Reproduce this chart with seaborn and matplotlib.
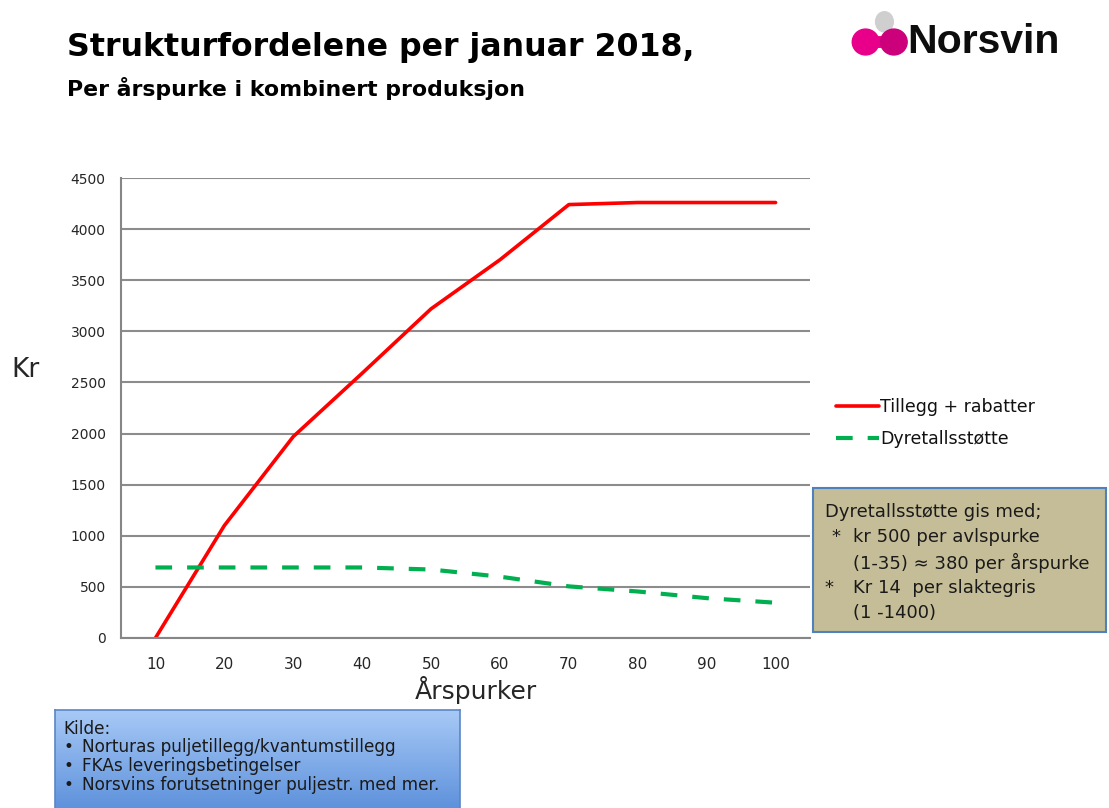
import numpy as np
import pandas as pd
import seaborn as sns
import matplotlib.pyplot as plt
from matplotlib.patches import Ellipse, Rectangle
from matplotlib.lines import Line2D

# Values
arspurker = [10, 20, 30, 40, 50, 60, 70, 80, 90, 100]
tillegg_rabatter = [0, 1100, 1970, 2590, 3220, 3700, 4240, 4260, 4260, 4260]
dyretallsstotte = [690, 690, 690, 690, 670, 600, 505, 455, 390, 345]
y_ticks = [0, 500, 1000, 1500, 2000, 2500, 3000, 3500, 4000, 4500]

df = pd.DataFrame({'Årspurker': arspurker,
                   'Tillegg + rabatter': tillegg_rabatter,
                   'Dyretallsstøtte': dyretallsstotte})

sns.set_style('white')
plt.rcParams['font.family'] = ['DejaVu Sans']
plt.rcParams['text.color'] = '#111111'

RED = '#ff0000'
GREEN = '#00b050'
GREEN_DASH = [4, 3.6]

fig = plt.figure(figsize=(11.09, 8.08), dpi=100)
ax = fig.add_axes([0.1091, 0.2104, 0.6213, 0.5693])

sns.lineplot(data=df, x='Årspurker', y='Tillegg + rabatter', ax=ax,
             color=RED, linewidth=2.6)
sns.lineplot(data=df, x='Årspurker', y='Dyretallsstøtte', ax=ax,
             color=GREEN, linewidth=3)
ax.lines[1].set_dashes(GREEN_DASH)

ax.set_xlim(5, 105)
ax.set_ylim(0, 4500)
ax.set_xticks(arspurker)
ax.set_xticks(np.arange(5, 106, 10), minor=True)
ax.set_yticks(y_ticks)
ax.set_xticklabels([str(v) for v in arspurker], fontsize=11)
ax.set_yticklabels([str(v) for v in y_ticks], fontsize=10)
ax.tick_params(axis='x', which='major', length=0, pad=14)
ax.tick_params(axis='x', which='minor', length=6, width=1.2, color='#868686', direction='out')
ax.tick_params(axis='y', length=5, width=1.2, color='#868686', direction='out', pad=6)
ax.grid(axis='y', color='#8c8c8c', linewidth=1.5)
ax.set_axisbelow(True)
for s in ['top', 'right']:
    ax.spines[s].set_visible(False)
for s in ['left', 'bottom']:
    ax.spines[s].set_color('#868686')
    ax.spines[s].set_linewidth(1.5)

ax.set_xlabel('Årspurker', fontsize=18)
ax.xaxis.set_label_coords(0.515, -0.082)
ax.set_ylabel('Kr', fontsize=19, rotation=0)
ax.yaxis.set_label_coords(-0.139, 0.555)

handles = [Line2D([], [], color=RED, linewidth=2.6),
           Line2D([], [], color=GREEN, linewidth=3, dashes=GREEN_DASH)]
ax.legend(handles, ['Tillegg + rabatter', 'Dyretallsstøtte'], frameon=False,
          loc='upper left', bbox_to_anchor=(1.015, 0.556), fontsize=12.5,
          handlelength=2.5, handletextpad=0.05, labelspacing=0.8)

# title block
fig.text(0.060, 0.941, 'Strukturfordelene per januar 2018,', fontsize=22.8,
         fontweight='bold', va='center', color='black')
fig.text(0.060, 0.891, 'Per årspurke i kombinert produksjon', fontsize=15.8,
         fontweight='bold', va='center', color='black')

# logo
fig.patches.append(Ellipse((0.7975, 0.973), 0.016, 0.025, transform=fig.transFigure,
                           color='#cfcfcf', zorder=3))
fig.patches.append(Ellipse((0.7805, 0.948), 0.024, 0.032, transform=fig.transFigure,
                           color='#e8008a', zorder=3))
fig.patches.append(Ellipse((0.7925, 0.948), 0.02, 0.013, transform=fig.transFigure,
                           color='#e8008a', zorder=3))
fig.patches.append(Ellipse((0.806, 0.948), 0.024, 0.032, transform=fig.transFigure,
                           color='#cc007a', zorder=4))
fig.text(0.818, 0.948, 'Norsvin', fontsize=29.5, fontweight='bold', va='center',
         color='#0d0d0d', family=['Liberation Sans'])

# info box
fig.patches.append(Rectangle((0.733, 0.218), 0.264, 0.178, transform=fig.transFigure,
                             facecolor='#c4bd97', edgecolor='#4f81bd', linewidth=1.5))
info_lines = [(0.744, 'Dyretallsstøtte gis med;'),
              (0.750, '*'), (0.769, 'kr 500 per avlspurke'),
              (0.769, '(1-35) \u2248 380 per årspurke'),
              (0.743, '*'), (0.769, 'Kr 14  per slaktegris'),
              (0.769, '(1 -1400)')]
rows = [0, 1, 1, 2, 3, 3, 4]
for (x, s), r in zip(info_lines, rows):
    fig.text(x, 1 - (512 + 25.3 * r) / 808, s, fontsize=13, va='center',
             color='#1a1a1a')

# source box with vertical gradient
bax = fig.add_axes([0.050, 0.0, 0.365, 0.121])
grad = np.linspace(0, 1, 100).reshape(-1, 1)
bax.imshow(grad, aspect='auto', cmap=sns.blend_palette(['#a7c9f6', '#5f92dc'], as_cmap=True),
           extent=[0, 1, 0, 1], origin='upper')
bax.set_xticks([])
bax.set_yticks([])
for s in bax.spines.values():
    s.set_color('#5b86c4')
    s.set_linewidth(1.2)
bax.spines['bottom'].set_visible(False)
src_lines = [(0.057, 'Kilde:'),
             (0.057, '\u2022'), (0.074, 'Norturas puljetillegg/kvantumstillegg'),
             (0.057, '\u2022'), (0.074, 'FKAs leveringsbetingelser'),
             (0.057, '\u2022'), (0.074, 'Norsvins forutsetninger puljestr. med mer.')]
src_rows = [0, 1, 1, 2, 2, 3, 3]
for (x, s), r in zip(src_lines, src_rows):
    fig.text(x, 1 - (729 + 18.5 * r) / 808, s, fontsize=12.2, va='center',
             color='#1a1a1a')

fig.savefig('out.png', dpi=100)
